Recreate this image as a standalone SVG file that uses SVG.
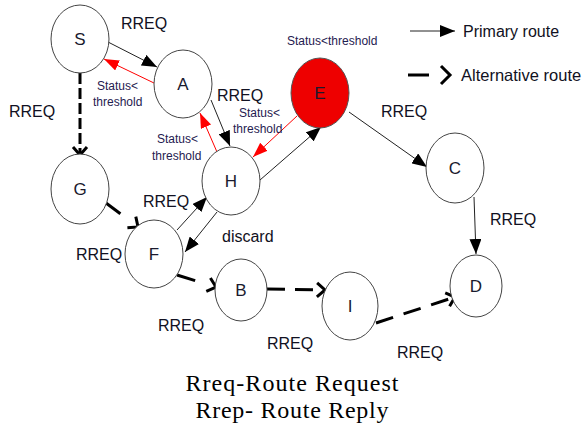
<svg xmlns="http://www.w3.org/2000/svg" width="582" height="431" viewBox="0 0 582 431">
  <style>
    .node { fill: #ffffff; stroke: #444444; stroke-width: 1; }
    .hot { fill: #ee0000; stroke: #555555; stroke-width: 1; }
    .nl { font-family: "Liberation Sans", Arial, sans-serif; font-size: 17px; fill: #1a1a2e; text-anchor: middle; }
    .lbl { font-family: "Liberation Sans", Arial, sans-serif; font-size: 16px; fill: #111122; }
    .st { font-family: "Liberation Sans", Arial, sans-serif; font-size: 12px; fill: #1f2050; }
    .cap { font-family: "Liberation Serif", "Times New Roman", serif; font-size: 24px; fill: #000000; text-anchor: middle; }
    .pri { stroke: #222222; stroke-width: 1; fill: none; marker-end: url(#ah); }
    .ret { stroke: #ff0000; stroke-width: 1; fill: none; marker-end: url(#ahr); }
    .alt { stroke: #000000; stroke-width: 3; fill: none; marker-end: url(#chev); }
  </style>
  <defs>
    <marker id="ah" markerUnits="userSpaceOnUse" markerWidth="16" markerHeight="12" refX="15" refY="6" orient="auto">
      <path d="M0,0 L15,6 L0,12 z" fill="#000000"/>
    </marker>
    <marker id="ahr" markerUnits="userSpaceOnUse" markerWidth="16" markerHeight="12" refX="15" refY="5.5" orient="auto">
      <path d="M0,0 L15,5.5 L0,11 z" fill="#ff0000"/>
    </marker>
    <marker id="chev" markerUnits="userSpaceOnUse" markerWidth="14" markerHeight="18" refX="10" refY="9" orient="auto">
      <path d="M2,2 L10,9 L2,16" fill="none" stroke="#000000" stroke-width="3"/>
    </marker>
  </defs>

  <!-- connectors -->
  <g id="connectors">
    <line class="pri" x1="108" y1="42" x2="157" y2="67"/>
    <line class="ret" x1="154" y1="83" x2="104" y2="59"/>
    <line class="pri" x1="211" y1="100" x2="230" y2="146"/>
    <line class="ret" x1="217" y1="152" x2="200" y2="113"/>
    <line class="ret" x1="297" y1="116" x2="253" y2="157"/>
    <line class="pri" x1="260" y1="180" x2="321" y2="127"/>
    <line class="pri" x1="349" y1="112" x2="427" y2="167"/>
    <line class="pri" x1="474" y1="197" x2="476" y2="254"/>
    <line class="pri" x1="177" y1="230" x2="207" y2="197"/>
    <line class="pri" x1="217" y1="212" x2="185" y2="252"/>
    <line class="alt" x1="80" y1="73" x2="80" y2="155" stroke-dasharray="11 4"/>
    <line class="alt" x1="106" y1="203" x2="138" y2="227" stroke-dasharray="18 40"/>
    <line class="alt" x1="177" y1="275" x2="216" y2="287" stroke-dasharray="19 40"/>
    <line class="alt" x1="267" y1="289" x2="325" y2="290" stroke-dasharray="18 10"/>
    <line class="alt" x1="376" y1="323" x2="455" y2="297" stroke-dasharray="18 11"/>
  </g>

  <!-- nodes -->
  <g id="node-S"><ellipse class="node" cx="80" cy="39" rx="29" ry="34"/><text class="nl" x="80" y="45">S</text></g>
  <g id="node-A"><ellipse class="node" cx="183" cy="84" rx="29" ry="34"/><text class="nl" x="183" y="90">A</text></g>
  <g id="node-E"><ellipse class="hot" cx="320" cy="93" rx="29" ry="35"/><text class="nl" x="320" y="99">E</text></g>
  <g id="node-G"><ellipse class="node" cx="80" cy="189" rx="29" ry="35"/><text class="nl" x="80" y="195">G</text></g>
  <g id="node-H"><ellipse class="node" cx="231" cy="181" rx="29" ry="34"/><text class="nl" x="231" y="187">H</text></g>
  <g id="node-C"><ellipse class="node" cx="455" cy="168" rx="29" ry="35"/><text class="nl" x="455" y="174">C</text></g>
  <g id="node-F"><ellipse class="node" cx="154" cy="254" rx="29" ry="34"/><text class="nl" x="154" y="260">F</text></g>
  <g id="node-B"><ellipse class="node" cx="241" cy="290" rx="26" ry="31"/><text class="nl" x="241" y="296">B</text></g>
  <g id="node-I"><ellipse class="node" cx="350" cy="306" rx="28" ry="34"/><text class="nl" x="350" y="312">I</text></g>
  <g id="node-D"><ellipse class="node" cx="476" cy="286" rx="26" ry="31"/><text class="nl" x="476" y="292">D</text></g>

  <!-- edge labels -->
  <g id="labels">
    <text class="lbl" x="121" y="29">RREQ</text>
    <text class="lbl" x="9" y="117">RREQ</text>
    <text class="lbl" x="217" y="101">RREQ</text>
    <text class="lbl" x="381" y="117">RREQ</text>
    <text class="lbl" x="490" y="225">RREQ</text>
    <text class="lbl" x="143" y="207">RREQ</text>
    <text class="lbl" x="76" y="260">RREQ</text>
    <text class="lbl" x="222" y="242">discard</text>
    <text class="lbl" x="158" y="331">RREQ</text>
    <text class="lbl" x="267" y="349">RREQ</text>
    <text class="lbl" x="397" y="358">RREQ</text>
    <text class="st" x="97" y="90">Status&lt;</text>
    <text class="st" x="93" y="106">threshold</text>
    <text class="st" x="239" y="117">Status&lt;</text>
    <text class="st" x="233" y="133">threshold</text>
    <text class="st" x="157" y="143">Status&lt;</text>
    <text class="st" x="152" y="160">threshold</text>
    <text class="st" x="287" y="45">Status&lt;threshold</text>
  </g>

  <!-- legend -->
  <g id="legend">
    <line class="pri" x1="410" y1="31" x2="455" y2="31"/>
    <text class="lbl" x="463" y="37">Primary route</text>
    <line x1="408" y1="75" x2="429" y2="75" stroke="#000000" stroke-width="3"/>
    <path d="M441,66 L450,75 L441,84" fill="none" stroke="#000000" stroke-width="3"/>
    <text class="lbl" x="461" y="81" style="font-size:16.5px">Alternative route</text>
  </g>

  <!-- caption -->
  <g id="caption">
    <text class="cap" x="292" y="391" textLength="213" lengthAdjust="spacing">Rreq-Route Request</text>
    <text class="cap" x="292" y="418" textLength="193" lengthAdjust="spacing">Rrep- Route Reply</text>
  </g>
</svg>
